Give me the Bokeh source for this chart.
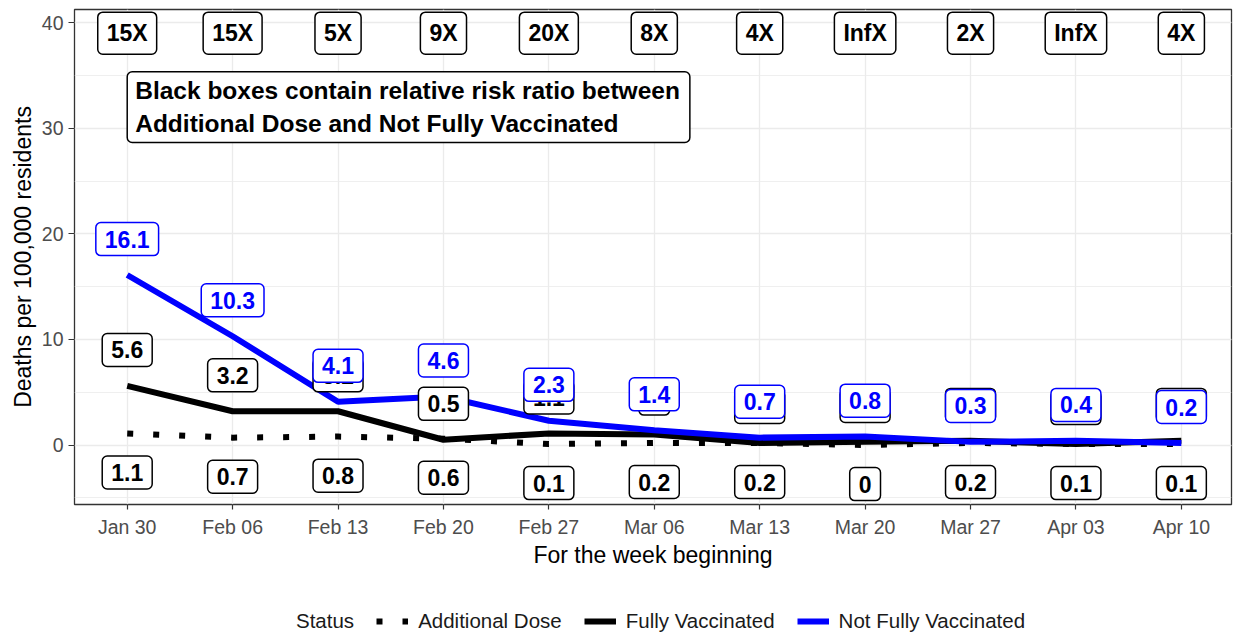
import numpy as np
import pandas as pd
from bokeh.plotting import figure
from bokeh.layouts import column
from bokeh.models import (ColumnDataSource, Range1d, FixedTicker, SingleIntervalTicker,
                          Legend, LegendItem, Label)
from bokeh.core.properties import value
from bokeh.embed import file_html
from bokeh.resources import INLINE

# ---------------- data ----------------
week_dates = ["2022-01-30", "2022-02-06", "2022-02-13", "2022-02-20", "2022-02-27", "2022-03-06",
              "2022-03-13", "2022-03-20", "2022-03-27", "2022-04-03", "2022-04-10"]
week_labels = ["Jan 30", "Feb 06", "Feb 13", "Feb 20", "Feb 27", "Mar 06",
               "Mar 13", "Mar 20", "Mar 27", "Apr 03", "Apr 10"]
additional_dose = [1.1, 0.7, 0.8, 0.6, 0.1, 0.2, 0.2, 0.0, 0.2, 0.1, 0.1]
fully_vaccinated = [5.6, 3.2, 3.2, 0.5, 1.1, 1.0, 0.2, 0.3, 0.4, 0.1, 0.4]
not_fully_vaccinated = [16.1, 10.3, 4.1, 4.6, 2.3, 1.4, 0.7, 0.8, 0.3, 0.4, 0.2]
risk_ratio_labels = ["15X", "15X", "5X", "9X", "20X", "8X", "4X", "InfX", "2X", "InfX", "4X"]
note_text = "Black boxes contain relative risk ratio between\nAdditional Dose and Not Fully Vaccinated"
series_names = ["Additional Dose", "Fully Vaccinated", "Not Fully Vaccinated"]
legend_title = "Status"
x_title = "For the week beginning"
y_title = "Deaths per 100,000 residents"

# label placement (style)
RATIO_Y = 39
NOTE_Y = 32
UP_NUDGE = 3.4
DOWN_NUDGE = -3.7

FONT = "Liberation Sans"
FRAME_W = 1157
FRAME_H = 495
LEFT = 74
RIGHT = 2

t0 = pd.Timestamp(week_dates[0])
x = [(pd.Timestamp(d) - t0).days for d in week_dates]


def fmt(v):
    return f"{v:g}"


src = ColumnDataSource(dict(
    x=x,
    ad_y=[v + DOWN_NUDGE for v in additional_dose], ad_t=[fmt(v) for v in additional_dose],
    fv_y=[v + UP_NUDGE for v in fully_vaccinated], fv_t=[fmt(v) for v in fully_vaccinated],
    nf_y=[v + UP_NUDGE for v in not_fully_vaccinated], nf_t=[fmt(v) for v in not_fully_vaccinated],
    rr_y=[RATIO_Y] * len(x), rr_t=risk_ratio_labels,
))

p = figure(frame_width=FRAME_W, frame_height=FRAME_H, output_backend="svg", toolbar_location=None,
           x_range=Range1d(-3.5, 73.33), y_range=Range1d(-5.63, 41.24),
           min_border_left=LEFT, min_border_right=RIGHT, min_border_top=9, min_border_bottom=0,
           background_fill_color="white", border_fill_color="white",
           outline_line_color="#333333", outline_line_width=1.3)

# axes
p.xaxis.ticker = FixedTicker(ticks=x)
p.xaxis.major_label_overrides = {k: lab for k, lab in zip(x, week_labels)}
p.yaxis.ticker = SingleIntervalTicker(interval=10, num_minor_ticks=2)
for ax in (p.xaxis, p.yaxis):
    ax.axis_line_color = None
    ax.major_tick_line_color = "#333333"
    ax.major_tick_line_width = 1.2
    ax.major_tick_in = 0
    ax.minor_tick_line_color = None
    ax.major_label_text_font = FONT
    ax.major_label_text_font_size = "19.5px"
    ax.major_label_text_color = "#4D4D4D"
    ax.axis_label_text_font = FONT
    ax.axis_label_text_font_size = "23px"
    ax.axis_label_text_font_style = "normal"
    ax.axis_label_text_color = "black"
p.xaxis.axis_label = x_title
p.yaxis.axis_label = y_title
p.xaxis.major_tick_out = 5
p.xaxis.major_label_standoff = 6
p.xaxis.axis_label_standoff = 1
p.yaxis.major_tick_out = 6
p.yaxis.major_label_standoff = 5
p.yaxis.axis_label_standoff = 3

# grid
p.xgrid.grid_line_color = "#EBEBEB"
p.xgrid.grid_line_width = 1.3
p.ygrid.grid_line_color = "#EBEBEB"
p.ygrid.grid_line_width = 1.3
p.ygrid.minor_grid_line_color = "#EBEBEB"
p.ygrid.minor_grid_line_width = 0.8

# lines
AD_STYLE = dict(line_color="black", line_width=6, line_dash="6 20")
FV_STYLE = dict(line_color="black", line_width=6)
NF_STYLE = dict(line_color="blue", line_width=6)
p.line(x, additional_dose, **AD_STYLE)
p.line(x, fully_vaccinated, **FV_STYLE)
p.line(x, not_fully_vaccinated, **NF_STYLE)

box_pad = dict(left=9, right=9, top=8, bottom=8)
common = dict(source=src, text_font=value(FONT), text_font_style="bold", text_font_size="23px",
              text_align="center", text_baseline="middle", background_fill_color="white",
              border_line_width=1.5, padding=box_pad, border_radius=5)

p.text(x="x", y="ad_y", text="ad_t", text_color="black", border_line_color="black", **common)
p.text(x="x", y="fv_y", text="fv_t", text_color="black", border_line_color="black", **common)
p.text(x="x", y="nf_y", text="nf_t", text_color="blue", border_line_color="blue", **common)
p.text(x="x", y="rr_y", text="rr_t", text_color="black", border_line_color="black", **common)

note = Label(x=x[0], y=NOTE_Y, text=note_text, anchor="center_left", text_align="left",
             text_baseline="middle", text_font=FONT, text_font_style="bold", text_font_size="24.5px",
             text_color="black", text_line_height=1.25, background_fill_color="white",
             border_line_color="black", border_line_width=1.5,
             padding=dict(left=8, right=10, top=5, bottom=5), border_radius=5)
p.add_layout(note)

# ---------------- legend strip ----------------
leg = figure(frame_width=FRAME_W, height=64, output_backend="svg", toolbar_location=None,
             x_axis_location=None, y_axis_location=None,
             x_range=Range1d(0, 1), y_range=Range1d(0, 1),
             min_border_left=LEFT, min_border_right=RIGHT, min_border_top=0, min_border_bottom=0,
             outline_line_color=None, background_fill_color="white", border_fill_color="white")
leg.grid.visible = False
nan = np.array([np.nan])
g_status = leg.line(nan, nan, line_alpha=0)
g_ad = leg.line(nan, nan, **AD_STYLE)
g_fv = leg.line(nan, nan, **FV_STYLE)
g_nf = leg.line(nan, nan, **NF_STYLE)

legend = Legend(items=[LegendItem(label=legend_title, renderers=[g_status]),
                       LegendItem(label=series_names[0], renderers=[g_ad]),
                       LegendItem(label=series_names[1], renderers=[g_fv]),
                       LegendItem(label=series_names[2], renderers=[g_nf])],
                orientation="horizontal", location=(180, 1),
                border_line_color=None, background_fill_alpha=0,
                label_text_font=FONT, label_text_font_size="20.5px", label_text_color="#1A1A1A",
                glyph_width=32, glyph_height=20, label_standoff=10, spacing=22,
                padding=0, margin=0)
leg.add_layout(legend)

layout = column(p, leg, spacing=0)
open("out.html", "w").write(file_html(layout, INLINE))
